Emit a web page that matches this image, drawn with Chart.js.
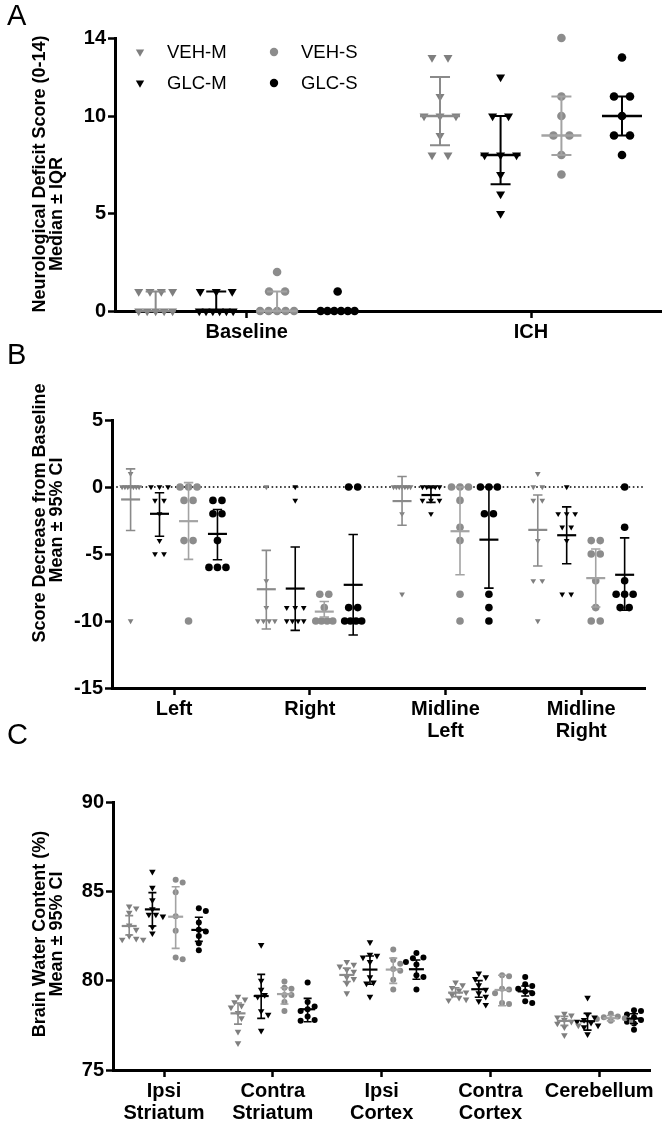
<!DOCTYPE html>
<html>
<head>
<meta charset="utf-8">
<script src="https://cdn.jsdelivr.net/npm/chart.js@4.4.1/dist/chart.umd.min.js"></script>
<style>
html, body { margin: 0; padding: 0; background: #fff; }
#wrap { position: relative; width: 667px; height: 1124px; overflow: hidden; }
canvas { position: absolute; left: 0; }
</style>
</head>
<body>
<div id="wrap">
  <canvas id="cA"></canvas>
  <canvas id="cB"></canvas>
  <canvas id="cC"></canvas>
</div>
<script>
const FONT = "'Liberation Sans', Arial, sans-serif";

// groups, in the order they sit inside each category
const groups = ['VEH-M', 'GLC-M', 'VEH-S', 'GLC-S'];
const groupOffset = [-0.32, -0.107, 0.107, 0.32];
const pointColor = ['#7f7f7f', '#000000', '#8c8c8c', '#000000'];
const barColor = ['#8a8a8a', '#000000', '#a3a3a3', '#000000'];

// ---- Panel A: neurological deficit score, median + IQR ----
const catsA = ['Baseline', 'ICH'];
const yTicksA = [0, 5, 10, 14];
const aVehM = [[0, 0, 0, 0, 0, 1, 1, 1, 1], [13, 13, 11, 10, 10, 10, 9, 8, 8]];
const aGlcM = [[0, 0, 0, 0, 0, 0, 1, 1, 1], [12, 10, 10, 8, 8, 8, 7, 6, 5]];
const aVehS = [[0, 0, 0, 0, 0, 1, 1, 2], [14, 11, 10, 9, 9, 8, 7]];
const aGlcS = [[0, 0, 0, 0, 0, 0, 1], [13, 11, 11, 10, 9, 9, 8]];
const aMedian = [[0, 10], [0, 8], [0, 9], [0, 10]];
const aQ1 = [[0, 8.5], [0, 6.5], [0, 8], [0, 9]];
const aQ3 = [[1, 12], [1, 10], [1, 11], [0, 11]];

// ---- Panel B: score decrease from baseline, mean + 95% CI ----
const catsB = ['Left', 'Right', ['Midline', 'Left'], ['Midline', 'Right']];
const yTicksB = [-15, -10, -5, 0, 5];
const bVehM = [[1, 0, 0, 0, 0, 0, 0, 0, -10], [0, -7, -9, -10, -10, -10, -10],
               [0, 0, 0, 0, 0, 0, 0, -2, -8], [1, 0, 0, -1, -1, -4, -7, -7, -10]];
const bGlcM = [[0, 0, 0, -1, -1, -2, -4, -5, -5], [0, -1, -9, -9, -9, -10, -10, -10, -10],
               [0, 0, 0, 0, 0, -1, -1, -1, -2], [0, -2, -2, -2, -3, -3, -4, -8, -8]];
const bVehS = [[0, 0, 0, -1, -1, -4, -4, -10], [-8, -8, -9, -10, -10, -10, -10],
               [0, 0, 0, -1, -3, -4, -8, -10], [-4, -4, -5, -5, -7, -9, -10, -10]];
const bGlcS = [[-1, -1, -2, -2, -4, -6, -6, -6], [0, 0, -9, -9, -10, -10, -10, -10],
               [0, 0, 0, -2, -2, -8, -9, -10], [0, -3, -7, -8, -8, -8, -9, -9]];
const bMean = [[-0.93, -7.63, -1.05, -3.2], [-2, -7.58, -0.6, -3.6],
               [-2.55, -9.3, -3.3, -6.8], [-3.5, -7.3, -3.93, -6.55]];
const bLo = [[-3.25, -10.6, -2.85, -5.9], [-3.68, -10.7, -1.15, -5.73],
             [-5.4, -9.7, -6.55, -8.95], [-5.43, -11.05, -7.55, -9.2]];
const bHi = [[1.35, -4.73, 0.78, -0.6], [-0.43, -4.48, -0.05, -1.48],
             [0.33, -8.55, 0, -4.63], [-1.68, -3.55, 0, -3.8]];

// ---- Panel C: brain water content, mean + 95% CI ----
const catsC = [['Ipsi', 'Striatum'], ['Contra', 'Striatum'], ['Ipsi', 'Cortex'], ['Contra', 'Cortex'], 'Cerebellum'];
const yTicksC = [75, 80, 85, 90];
const cVehM = [[84.15, 84.05, 83.8, 83.1, 82.85, 82.5, 82.35, 82.3, 82.3],
               [79.1, 78.95, 78.8, 78.6, 78.5, 78.2, 77.9, 77.15, 76.5],
               [81.05, 80.9, 80.8, 80.6, 80.5, 80.2, 80.1, 79.85, 79.3],
               [79.9, 79.75, 79.6, 79.45, 79.35, 79.2, 79.05, 78.95, 78.9],
               [78.15, 78.05, 77.95, 77.8, 77.7, 77.6, 77.5, 77.4, 76.95]];
const cGlcM = [[86.1, 85.2, 84.5, 84.0, 83.7, 83.7, 83.6, 83.0, 82.65],
               [82.0, 80.0, 79.5, 79.2, 79.1, 78.3, 78.1, 77.2],
               [82.15, 81.45, 81.4, 81.3, 81.05, 80.2, 79.9, 79.85, 79.1],
               [80.4, 80.2, 80.1, 79.75, 79.5, 79.3, 79.1, 78.85, 78.65],
               [79.05, 78.1, 77.95, 77.8, 77.7, 77.65, 77.5, 77.4, 77.0]];
const cVehS = [[85.65, 85.5, 84.95, 83.6, 82.8, 81.3, 81.2],
               [79.95, 79.6, 79.55, 79.2, 79.2, 78.8, 78.3],
               [81.75, 81.15, 80.95, 80.65, 80.55, 80.05, 79.5],
               [80.3, 80.25, 79.55, 79.5, 79.3, 78.75, 78.7],
               [78.15, 78.0, 77.95, 77.9, 77.85, 77.75, 77.7]];
const cGlcS = [[84.05, 83.9, 83.25, 82.85, 82.75, 82.5, 82.1, 81.7],
               [79.9, 78.8, 78.55, 78.4, 78.3, 78.0, 77.8, 77.75],
               [81.55, 81.3, 81.25, 81.05, 80.9, 80.3, 80.2, 79.5],
               [80.2, 79.8, 79.7, 79.55, 79.4, 79.3, 78.85, 78.75],
               [78.35, 78.3, 78.1, 77.95, 77.8, 77.7, 77.6, 77.25]];
const cMean = [[83.06, 78.17, 80.32, 79.33, 77.75], [83.99, 79.14, 80.62, 79.52, 77.73],
               [83.58, 79.25, 80.62, 79.48, 77.9], [82.84, 78.4, 80.64, 79.4, 77.88]];
const cLo = [[82.56, 77.57, 79.95, 79.1, 77.5], [83.06, 77.89, 79.8, 79.07, 77.23],
             [81.81, 78.69, 79.85, 78.6, 77.75], [82.2, 77.7, 80.08, 79.14, 77.6]];
const cHi = [[83.64, 78.75, 80.7, 79.6, 78.0], [84.93, 80.35, 81.38, 80.0, 78.17],
             [85.26, 79.6, 81.26, 80.3, 78.05], [83.55, 79.01, 81.16, 79.7, 78.15]];

// same integer scores sit side by side in a centred row (px offsets)
function rowLayout(vals, spacing, maxSpan) {
    const counts = {}, seen = {};
    vals.forEach(v => counts[v] = (counts[v] || 0) + 1);
    return vals.map(v => {
        const n = counts[v];
        seen[v] = seen[v] === undefined ? 0 : seen[v] + 1;
        const sp = n > 1 ? Math.min(spacing, maxSpan / (n - 1)) : 0;
        return (seen[v] - (n - 1) / 2) * sp;
    });
}

// simple beeswarm for continuous values (px offsets)
function swarmLayout(vals, yScale, step, minDist) {
    const placed = [];
    return vals.map(v => {
        const py = yScale.getPixelForValue(v);
        for (let j = 0; j < 60; j++) {
            const off = (j % 2 ? 1 : -1) * Math.ceil(j / 2) * step;
            if (placed.every(p => Math.hypot(p[0] - off, p[1] - py) >= minDist)) {
                placed.push([off, py]);
                return off;
            }
        }
        return 0;
    });
}

function rotatedText(ctx, text, x, y, font) {
    ctx.save();
    ctx.translate(x, y);
    ctx.rotate(-Math.PI / 2);
    ctx.font = font;
    ctx.fillStyle = '#000';
    ctx.textAlign = 'center';
    ctx.textBaseline = 'middle';
    ctx.fillText(text, 0, 0);
    ctx.restore();
}

function decorPlugin(cfg) {
    return {
        id: 'decor' + cfg.id,
        beforeDatasetsDraw(chart) {
            if (!cfg.zeroLine) return;
            const ctx = chart.ctx, area = chart.chartArea;
            const y0 = chart.scales.y.getPixelForValue(0);
            ctx.save();
            ctx.strokeStyle = '#000';
            ctx.lineWidth = 1.6;
            ctx.setLineDash([1.6, 2.6]);
            ctx.beginPath();
            ctx.moveTo(area.left, y0);
            ctx.lineTo(area.right, y0);
            ctx.stroke();
            ctx.restore();
        },
        afterDatasetsDraw(chart) {
            const ctx = chart.ctx, xs = chart.scales.x, ys = chart.scales.y;
            ctx.save();
            groups.forEach((g, gi) => {
                cfg.center[gi].forEach((c, ci) => {
                    const x = xs.getPixelForValue(ci + groupOffset[gi]);
                    const yc = ys.getPixelForValue(c);
                    const yl = ys.getPixelForValue(cfg.lo[gi][ci]);
                    const yh = ys.getPixelForValue(cfg.hi[gi][ci]);
                    ctx.strokeStyle = barColor[gi];
                    ctx.lineWidth = cfg.barWidth;
                    ctx.beginPath();
                    if (yl !== yh) {
                        ctx.moveTo(x, yl); ctx.lineTo(x, yh);
                        ctx.moveTo(x - cfg.capHalf, yl); ctx.lineTo(x + cfg.capHalf, yl);
                        ctx.moveTo(x - cfg.capHalf, yh); ctx.lineTo(x + cfg.capHalf, yh);
                    }
                    ctx.stroke();
                    ctx.lineWidth = cfg.barWidth + 0.6;
                    ctx.beginPath();
                    ctx.moveTo(x - cfg.meanHalf, yc); ctx.lineTo(x + cfg.meanHalf, yc);
                    ctx.stroke();
                });
            });
            ctx.restore();
        },
        afterDraw(chart) {
            const ctx = chart.ctx;
            ctx.save();
            ctx.fillStyle = '#000';
            ctx.font = '29px ' + FONT;
            ctx.textAlign = 'left';
            ctx.textBaseline = 'alphabetic';
            ctx.fillText(cfg.letter, 7, cfg.letterY);
            ctx.restore();
            const tf = 'bold 18px ' + FONT;
            rotatedText(ctx, cfg.title[0], 40, cfg.titleY[0], tf);
            rotatedText(ctx, cfg.title[1], 57, cfg.titleY[1], tf);
            if (cfg.legend) {
                const area = chart.chartArea;
                groups.forEach((g, gi) => {
                    const col = Math.floor(gi / 2), row = gi % 2;
                    const x = area.left + 25 + col * 134;
                    const y = area.top + 14 + row * 31;
                    ctx.save();
                    ctx.fillStyle = pointColor[gi];
                    Chart.helpers.drawPoint(ctx, {
                        pointStyle: gi < 2 ? 'triangle' : 'circle',
                        rotation: gi < 2 ? 180 : 0,
                        radius: gi < 2 ? 4.8 : 4.2,
                        borderWidth: 0
                    }, x, y);
                    ctx.fillStyle = '#000';
                    ctx.font = '18.5px ' + FONT;
                    ctx.textAlign = 'left';
                    ctx.textBaseline = 'middle';
                    ctx.fillText(g, x + 27, y + 1);
                    ctx.restore();
                });
            }
        }
    };
}

function makePanel(cfg) {
    const canvas = document.getElementById(cfg.id);
    canvas.width = 667;
    canvas.height = cfg.height;
    canvas.style.top = cfg.top + 'px';

    const datasets = groups.map((g, gi) => ({
        label: g,
        data: [],
        pointStyle: gi < 2 ? 'triangle' : 'circle',
        rotation: gi < 2 ? 180 : 0,
        pointRadius: gi < 2 ? cfg.triR : cfg.dotR,
        backgroundColor: pointColor[gi],
        borderColor: pointColor[gi],
        borderWidth: 0,
        clip: false
    }));

    const tickFont = { family: FONT, size: 20, weight: 'bold', lineHeight: 1.1 };
    const chart = new Chart(canvas, {
        type: 'scatter',
        data: { datasets: datasets },
        options: {
            responsive: false,
            animation: false,
            events: [],
            layout: { padding: { left: 0, right: cfg.padRight, top: cfg.padTop, bottom: 0 } },
            plugins: { legend: { display: false }, tooltip: { enabled: false } },
            scales: {
                x: {
                    type: 'linear',
                    min: cfg.xMin,
                    max: cfg.xMax,
                    afterBuildTicks: s => { s.ticks = cfg.cats.map((c, i) => ({ value: i })); },
                    afterFit: s => { s.height = cfg.xH; },
                    ticks: {
                        autoSkip: false, maxRotation: 0, minRotation: 0, padding: 3, color: '#000',
                        font: tickFont,
                        callback: v => cfg.cats[Math.round(v)]
                    },
                    grid: { drawOnChartArea: false, drawTicks: true, tickLength: 7, tickWidth: 2.5, tickColor: '#000', z: -2 },
                    border: { display: true, color: '#000', width: 3 }
                },
                y: {
                    type: 'linear',
                    min: cfg.yTicks[0],
                    max: cfg.yTicks[cfg.yTicks.length - 1],
                    afterBuildTicks: s => { s.ticks = cfg.yTicks.map(v => ({ value: v })); },
                    afterFit: s => { s.width = cfg.yW; },
                    ticks: { padding: 2, color: '#000', font: tickFont, callback: v => String(v) },
                    grid: { drawOnChartArea: false, drawTicks: true, tickLength: 7, tickWidth: 2.5, tickColor: '#000', z: -2 },
                    border: { display: true, color: '#000', width: 3 }
                }
            }
        },
        plugins: [decorPlugin(cfg)]
    });

    // spread the points of each group now that the scales exist
    const xs = chart.scales.x, ys = chart.scales.y;
    const pxPerUnit = xs.getPixelForValue(1) - xs.getPixelForValue(0);
    groups.forEach((g, gi) => {
        const pts = [];
        cfg.values[gi].forEach((vals, ci) => {
            const offs = cfg.layout(vals, ys);
            vals.forEach((v, k) => pts.push({ x: ci + groupOffset[gi] + offs[k] / pxPerUnit, y: v }));
        });
        chart.data.datasets[gi].data = pts;
    });
    chart.update('none');
    return chart;
}

makePanel({
    id: 'cA', top: 0, height: 350, padTop: 38, padRight: 4, xH: 39, yW: 115,
    xMin: -0.463, xMax: 1.46, cats: catsA, yTicks: yTicksA,
    values: [aVehM, aGlcM, aVehS, aGlcS],
    center: aMedian, lo: aQ1, hi: aQ3,
    triR: 5.2, dotR: 4.3, barWidth: 2, capHalf: 10, meanHalf: 20,
    layout: vals => rowLayout(vals, 16, 34),
    letter: 'A', letterY: 25,
    title: ['Neurological Deficit Score (0-14)', 'Median \u00b1 IQR'], titleY: [174, 214],
    legend: true
});

makePanel({
    id: 'cB', top: 330, height: 420, padTop: 90, padRight: 22, xH: 62, yW: 112,
    xMin: -0.457, xMax: 3.47, cats: catsB, yTicks: yTicksB,
    values: [bVehM, bGlcM, bVehS, bGlcS],
    center: bMean, lo: bLo, hi: bHi,
    triR: 3.3, dotR: 3.8, barWidth: 1.6, capHalf: 4.7, meanHalf: 9.5,
    layout: vals => rowLayout(vals, 9, 17),
    letter: 'B', letterY: 34,
    title: ['Score Decrease from Baseline', 'Mean \u00b1 95% CI'], titleY: [183, 190],
    zeroLine: true
});

makePanel({
    id: 'cC', top: 710, height: 414, padTop: 92, padRight: 17, xH: 54, yW: 113,
    xMin: -0.469, xMax: 4.467, cats: catsC, yTicks: yTicksC,
    values: [cVehM, cGlcM, cVehS, cGlcS],
    center: cMean, lo: cLo, hi: cHi,
    triR: 3.8, dotR: 3, barWidth: 1.6, capHalf: 4, meanHalf: 7.5,
    layout: (vals, ys) => swarmLayout(vals, ys, 3.5, 6),
    letter: 'C', letterY: 34,
    title: ['Brain Water Content (%)', 'Mean \u00b1 95% CI'], titleY: [224, 224]
});
</script>
</body>
</html>
